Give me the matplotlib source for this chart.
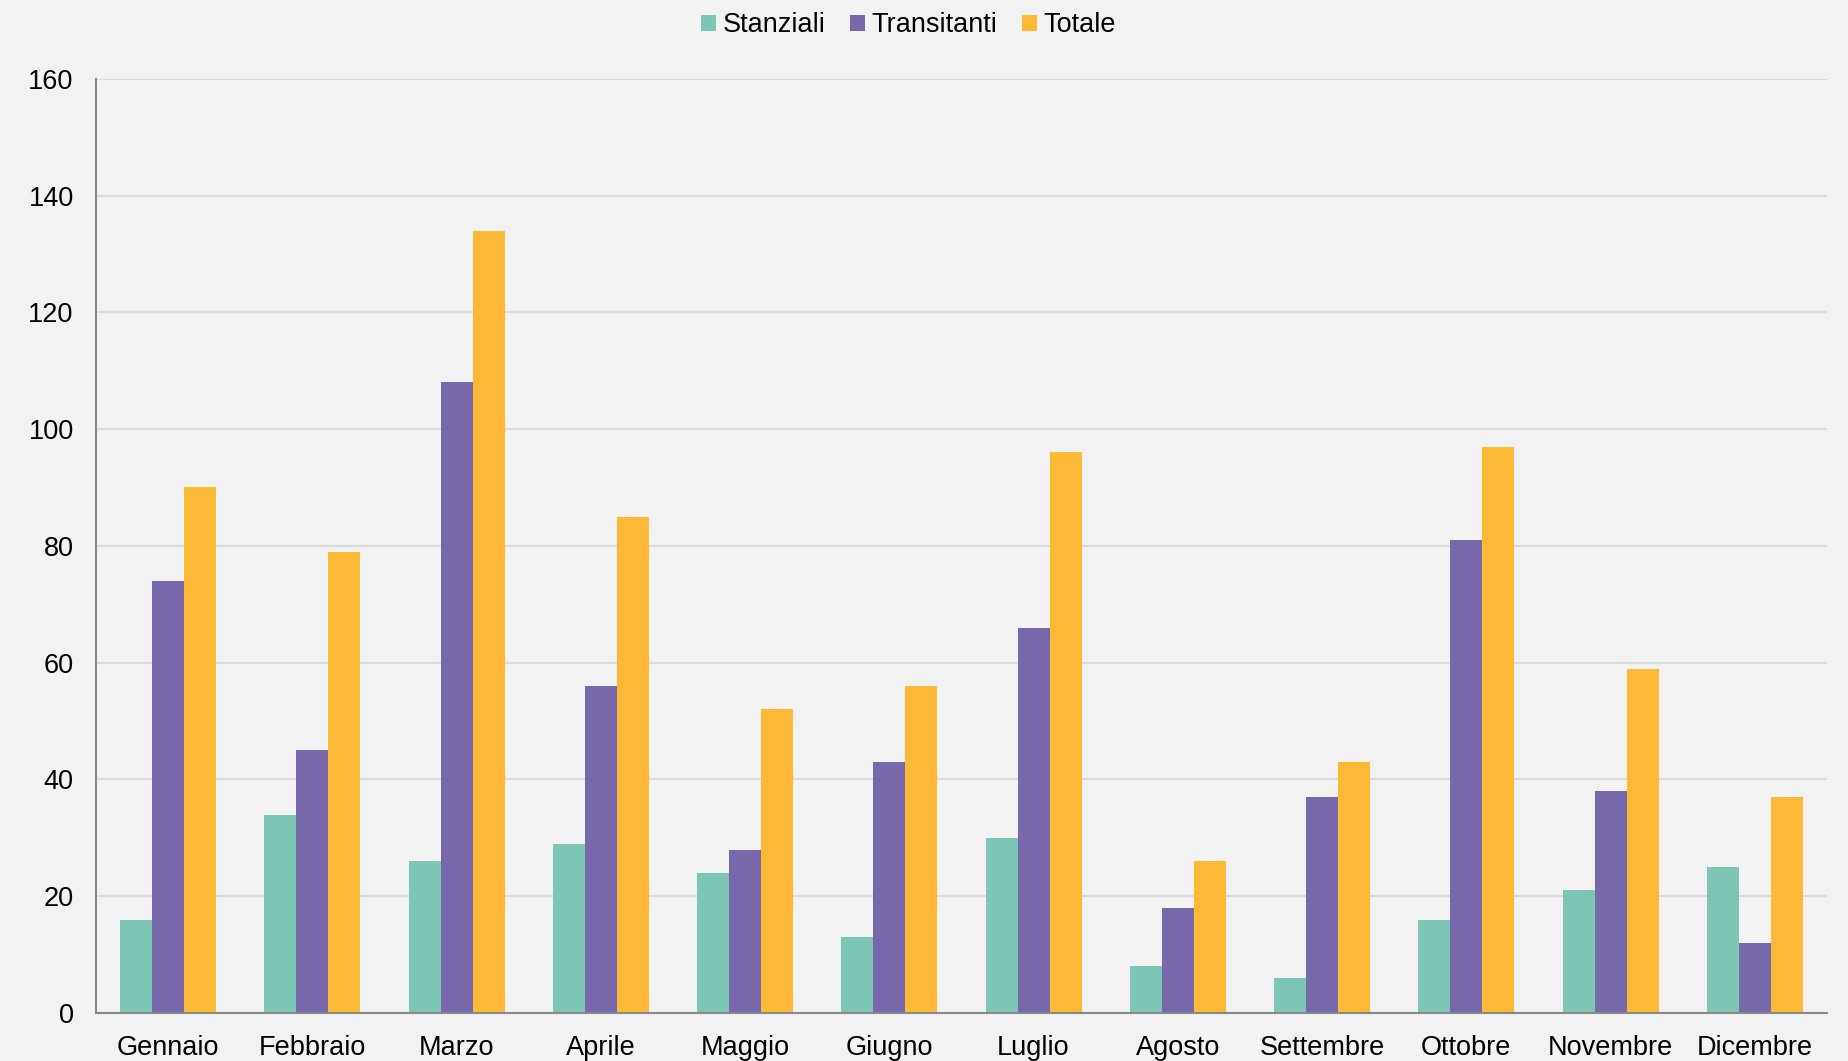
import numpy as np
import matplotlib.pyplot as plt

mesi = ['Gennaio', 'Febbraio', 'Marzo', 'Aprile', 'Maggio', 'Giugno',
        'Luglio', 'Agosto', 'Settembre', 'Ottobre', 'Novembre', 'Dicembre']
stanziali = [16, 34, 26, 29, 24, 13, 30, 8, 6, 16, 21, 25]
transitanti = [74, 45, 108, 56, 28, 43, 66, 18, 37, 81, 38, 12]
totale = [90, 79, 134, 85, 52, 56, 96, 26, 43, 97, 59, 37]

plt.rcParams['font.family'] = ['Liberation Sans', 'DejaVu Sans']

bg = '#F2F2F2'
fig = plt.figure(figsize=(18.48, 10.61), dpi=100, facecolor=bg)
ax = fig.add_axes([0.0519, 0.0452, 0.9367, 0.8806], facecolor=bg)

x = np.arange(len(mesi))
w = 0.222
ax.bar(x - w, stanziali, w, color='#7DC5B5', label='Stanziali', zorder=3)
ax.bar(x, transitanti, w, color='#7768AC', label='Transitanti', zorder=3)
ax.bar(x + w, totale, w, color='#FBB936', label='Totale', zorder=3)

ax.set_xlim(-0.5, len(mesi) - 0.5)
ax.set_ylim(0, 160)
ax.set_yticks(range(0, 161, 20))
ax.set_xticks(x)
ax.set_xticklabels(mesi)
ax.tick_params(axis='both', length=0, labelsize=19.5, colors='black')
ax.tick_params(axis='y', pad=16)
ax.tick_params(axis='x', pad=16)
ax.grid(axis='y', color='#D9D9D9', linewidth=1.5, zorder=0)

for s in ['top', 'right']:
    ax.spines[s].set_visible(False)
for s in ['left', 'bottom']:
    ax.spines[s].set_color('#898989')
    ax.spines[s].set_linewidth(1.5)
    ax.spines[s].set_zorder(4)

fig.legend(loc='center', bbox_to_anchor=(0.4915, 0.976), ncol=3, frameon=False,
           fontsize=19.5, handlelength=0.55, handleheight=0.55,
           handletextpad=0.25, columnspacing=0.9)

plt.savefig('out.png', dpi=100, facecolor=bg)
